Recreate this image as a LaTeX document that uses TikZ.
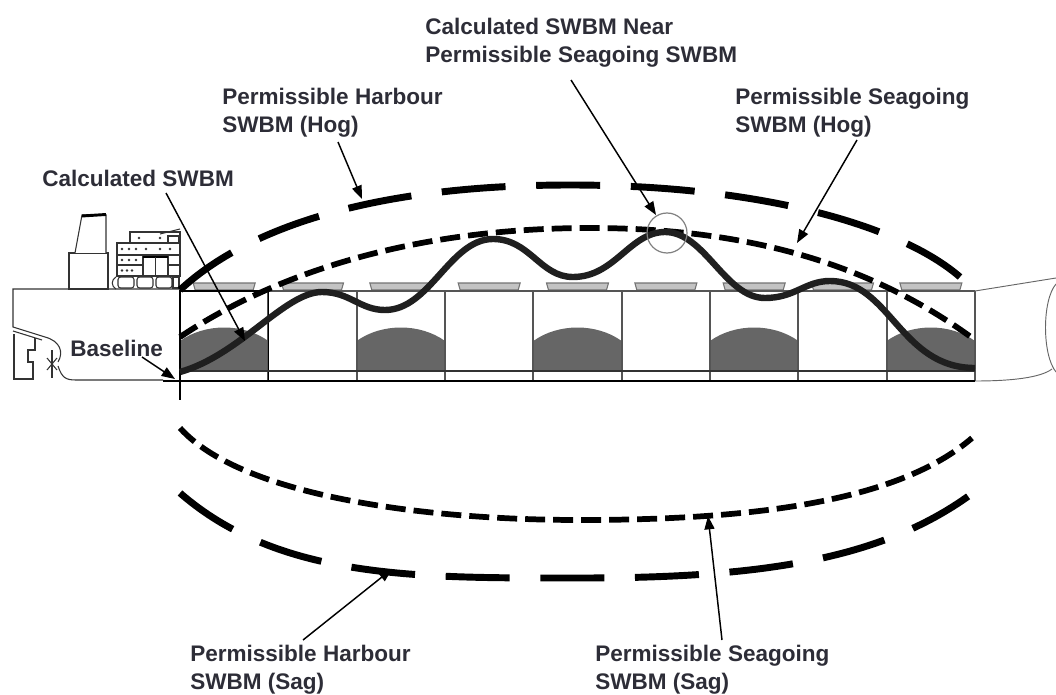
\documentclass[tikz,border=0pt]{standalone}
\usepackage{fontspec}
\newfontfamily\lbl{Liberation Sans}
\usetikzlibrary{arrows.meta}
\definecolor{txt}{RGB}{45,45,55}
\definecolor{cargo}{RGB}{102,102,102}
\definecolor{wall}{RGB}{85,85,85}
\definecolor{cover}{RGB}{195,195,195}
\definecolor{coverline}{RGB}{115,115,115}
\tikzset{
  lbltext/.style={anchor=north west, inner sep=0pt, align=left, text=txt,
    font=\lbl\bfseries\fontsize{16.9}{21}\selectfont},
  ptr/.style={draw=black, line width=1.1pt, -{Triangle[length=10pt,width=7.5pt]}},
  harb/.style={line width=5.2pt, dash pattern=on 48pt off 23pt},
  seag/.style={line width=4.3pt, dash pattern=on 15pt off 6pt},
  calc/.style={line width=4.8pt, black!88},
  hull/.style={line width=0.8pt, black!80},
  hullthin/.style={line width=0.7pt, black!60},
}
\begin{document}
\begin{tikzpicture}[x=0.75pt,y=-0.75pt]
\useasboundingbox (0,0) rectangle (1056,695);

% ---------- cargo fills ----------
\foreach \i [evaluate=\i as \xa using 180+88.333*\i, evaluate=\i as \xb using 180+88.333*(\i+1)] in {0,2,4,6,8}
  \fill[cargo] (\xa,371) -- (\xa,341) .. controls (\xa+25,323) and (\xb-25,323) .. (\xb,341) -- (\xb,371) -- cycle;

% ---------- hatch covers ----------
\foreach \i [evaluate=\i as \xc using 180+88.333*(\i+0.5)] in {0,...,8}
  \filldraw[fill=cover, draw=coverline, line width=0.8pt] (\xc-31,283) -- (\xc+31,283) -- (\xc+29,290) -- (\xc-29,290) -- cycle;

% ---------- holds ----------
\draw[wall, line width=1.1pt] (180,291) -- (975,291);
\foreach \i [evaluate=\i as \xa using 180+88.333*\i] in {1,...,9}
  \draw[wall, line width=1.3pt] (\xa,291) -- (\xa,381);
\draw[black, line width=1.2pt] (180,291) -- (268.3,291) -- (268.3,381);
\draw[black!80, line width=1pt] (180,371) -- (975,371);
\draw[black, line width=2pt] (163,381) -- (975,381);
\draw[black, line width=1.6pt] (180,290) -- (180,400);

% ---------- stern ----------
\draw[hull] (180,289) -- (13,289) -- (13,327) -- (45,337) .. controls (60,341) and (64,352) .. (58,362);
\draw[hull] (13,331) -- (42,340);
\draw[hull] (58,366) .. controls (62,378) and (66,380) .. (76,380) -- (163,380);
\draw[hull] (14,334) -- (14,379) -- (33,379) -- (33,362) -- (28,362) -- (28,350) -- (35,350) -- (35,338);
\draw[hull] (52,350) -- (52,378);
\draw[hull] (47,358) -- (57,370) (47,370) -- (57,358);

% ---------- superstructure ----------
\draw[hull, fill=white] (69,253) rectangle (108,289);
\draw[hull, fill=white] (75,253) -- (82,215) -- (106,215) -- (106,253);
\draw[black, line width=2.2pt] (82,216) -- (106,214.5);
\draw[hull] (116,277) .. controls (111,280) and (111,286) .. (116,289);
\foreach \x in {117,136,155}
  \draw[hull, rounded corners=2pt] (\x+1,277) rectangle (\x+17,288);
\draw[hull] (173,277) rectangle (179,288);
\draw[hull] (117,265) rectangle (180,276);
\draw[hull] (117,255) rectangle (180,265);
\draw[hull] (117,243) rectangle (180,255);
\draw[hull] (130,232) rectangle (180,243);
\foreach \x in {122,129,136,146,160,170} \fill[black!80] (\x,249) circle[radius=1.3];
\foreach \x in {122,129,136} \fill[black!80] (\x,260) circle[radius=1.3];
\foreach \x in {122,127,132} \fill[black!80] (\x,270.5) circle[radius=1.3];
\foreach \x in {139,160} \fill[black!80] (\x,238) circle[radius=1.3];
\draw[hull, fill=white] (143,256) rectangle (168,276);
\draw[black, line width=1.6pt] (143,257) -- (168,257);
\draw[hull] (155.5,257) -- (155.5,276);
\draw[hull] (168,236) rectangle (179,243);
\draw[hull] (160,234) -- (180,229);

% ---------- bow ----------
\draw[hullthin] (975,291) -- (1056,278);
\draw[hullthin] (975,381) .. controls (1010,381) and (1040,378) .. (1052,369);
\draw[hullthin] (1056,284) .. controls (1042,300) and (1042,355) .. (1056,372);

% ---------- permissible curves ----------
\draw[harb] (180,290) .. controls (250,225) and (380,185) .. (570,185) .. controls (760,185) and (900,225) .. (960,277);
\draw[seag] (180,337) .. controls (280,270) and (420,228) .. (590,228) .. controls (760,228) and (880,270) .. (975,340);
\draw[seag] (180,428) .. controls (240,495) and (420,520) .. (580,520) .. controls (760,520) and (900,500) .. (972,438);
\draw[harb] (180,493) .. controls (280,580) and (420,578) .. (580,578) .. controls (760,578) and (880,560) .. (970,495);

% ---------- calculated SWBM ----------
\draw[calc] (180,372) .. controls (240,355) and (285,292) .. (322,292)
  .. controls (350,292) and (360,310) .. (385,310)
  .. controls (430,310) and (450,239) .. (493,239)
  .. controls (530,239) and (540,277) .. (573,277)
  .. controls (615,277) and (630,232) .. (665,232)
  .. controls (705,232) and (725,298) .. (765,298)
  .. controls (795,298) and (805,281) .. (830,281)
  .. controls (890,281) and (900,368) .. (975,368);
\draw[gray, line width=0.9pt] (667,233) circle[radius=20];

% ---------- labels ----------
\node[lbltext] (lnear) at (425,18) {Calculated SWBM Near\\Permissible Seagoing SWBM};
\node[lbltext] (lhh) at (222,88) {Permissible Harbour\\SWBM (Hog)};
\node[lbltext] (lsh) at (735,88) {Permissible Seagoing\\SWBM (Hog)};
\node[lbltext] (lcalc) at (42,170) {Calculated SWBM};
\node[lbltext] (lbase) at (70,340) {Baseline};
\node[lbltext] (lhs) at (190,645) {Permissible Harbour\\SWBM (Sag)};
\node[lbltext] (lss) at (595,645) {Permissible Seagoing\\SWBM (Sag)};

% ---------- pointers ----------
\coordinate (pnearS) at (571,80);   \coordinate (pnearT) at (656,215);
\coordinate (phhS) at (338,142);    \coordinate (phhT) at (362,199);
\coordinate (pshS) at (857,140);    \coordinate (pshT) at (797,243);
\coordinate (pcalcS) at (166,193);  \coordinate (pcalcT) at (245,341);
\coordinate (pbaseS) at (142,357);  \coordinate (pbaseT) at (175,379);
\coordinate (phsS) at (303,640);    \coordinate (phsT) at (392,569);
\coordinate (pssS) at (722,640);    \coordinate (pssT) at (708,516);
\draw[ptr] (pnearS) -- (pnearT);
\draw[ptr] (phhS) -- (phhT);
\draw[ptr] (pshS) -- (pshT);
\draw[ptr] (pcalcS) -- (pcalcT);
\draw[ptr] (pbaseS) -- (pbaseT);
\draw[ptr] (phsS) -- (phsT);
\draw[ptr] (pssS) -- (pssT);
\end{tikzpicture}
\end{document}
